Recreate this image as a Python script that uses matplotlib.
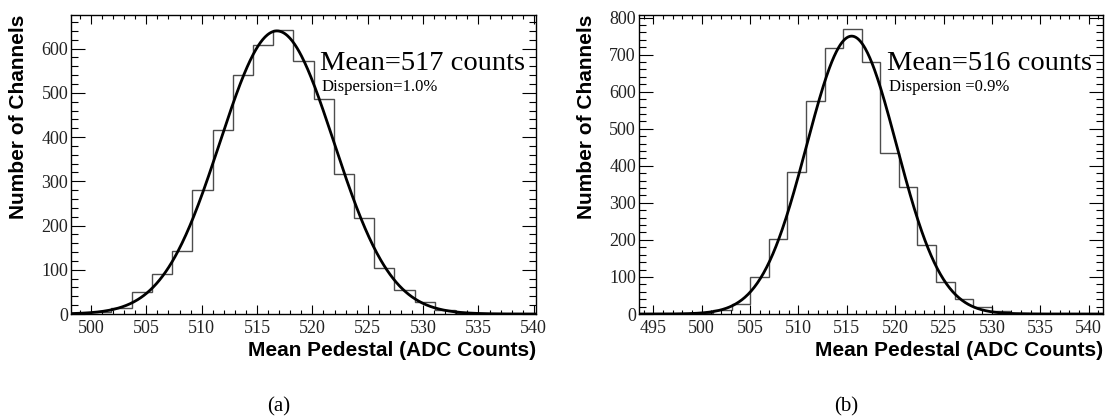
import numpy as np
import matplotlib
matplotlib.use("Agg")
import matplotlib.pyplot as plt
from matplotlib.ticker import MultipleLocator

# panel (a): 23 bins over 498.2 .. 540.2
range_a = (498.2, 540.2)
counts_a = [1, 4, 14, 49, 90, 143, 280, 416, 540, 609, 643, 571,
            486, 317, 216, 105, 54, 28, 10, 3, 1, 0, 0]
fit_a = (640, 516.8, 5.15)   # amplitude, mean, sigma
text_a = ["Mean=517 counts", "Dispersion=1.0%"]

# panel (b): 25 bins over 493.5 .. 541.5
range_b = (493.5, 541.5)
counts_b = [0, 0, 1, 3, 12, 27, 99, 203, 384, 574, 719, 769, 680,
            435, 343, 186, 87, 40, 18, 9, 3, 1, 0, 0, 0]
fit_b = (750, 515.5, 4.65)
text_b = ["Mean=516 counts", "Dispersion =0.9%"]

ylim_a = 676
ylim_b = 807

W, H = 1106, 419
fig = plt.figure(figsize=(W / 100, H / 100), dpi=100)
serif = "Liberation Serif"
sans = "Liberation Sans"


def panel(left, right, rng, counts, fit, ytop, texts, tx, ylab_x, cap, cap_x):
    ax = fig.add_axes([left / W, (H - 314) / H, (right - left) / W, (314 - 15) / H])
    edges = np.linspace(rng[0], rng[1], len(counts) + 1)
    ax.stairs(counts, edges, color="0.3", lw=1.0)
    xs = np.linspace(rng[0], rng[1], 600)
    amp, mu, sig = fit
    ax.plot(xs, amp * np.exp(-0.5 * ((xs - mu) / sig) ** 2), color="black", lw=2.0)
    ax.set_xlim(rng)
    ax.set_ylim(0, ytop)
    ax.xaxis.set_major_locator(MultipleLocator(5))
    ax.xaxis.set_minor_locator(MultipleLocator(1))
    ax.yaxis.set_major_locator(MultipleLocator(100))
    ax.yaxis.set_minor_locator(MultipleLocator(20))
    ax.tick_params(which="both", direction="in", top=True, right=True, width=0.8)
    ax.tick_params(axis="x", which="major", length=6.5, pad=4)
    ax.tick_params(axis="x", which="minor", length=3.2)
    ax.tick_params(axis="y", which="major", length=10, pad=2)
    ax.tick_params(axis="y", which="minor", length=5)
    for lab in ax.get_xticklabels() + ax.get_yticklabels():
        lab.set_fontfamily(serif)
        lab.set_fontsize(13)
        lab.set_color("#222222")
    for s in ax.spines.values():
        s.set_linewidth(1.0)
    fig.text(tx / W, 1 - 70 / H, texts[0], family=serif, fontsize=20.5,
             ha="left", va="baseline")
    fig.text((tx + 2) / W, 1 - 91 / H, texts[1], family=serif, fontsize=12,
             ha="left", va="baseline")
    fig.text(ylab_x / W, 1 - 15 / H, "Number of Channels", family=sans,
             fontweight="bold", fontsize=15, rotation=90, ha="center", va="top")
    fig.text(right / W, 1 - 350 / H, "Mean Pedestal (ADC Counts)", family=sans,
             fontweight="bold", fontsize=15, ha="right", va="center")
    fig.text(cap_x / W, 1 - 407 / H, cap, family=serif, fontsize=15,
             ha="center", va="center")
    return ax


panel(71, 536, range_a, counts_a, fit_a, ylim_a, text_a, 320, 19, "(a)", 279)
panel(638.7, 1103.3, range_b, counts_b, fit_b, ylim_b, text_b, 887, 586, "(b)", 846)

fig.savefig("out.png", dpi=100)
